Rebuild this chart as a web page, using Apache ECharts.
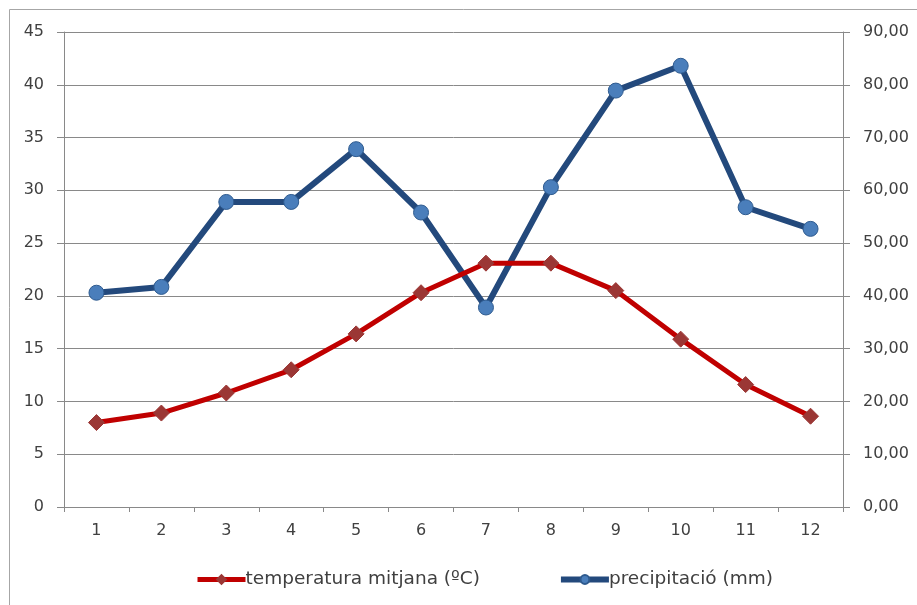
<!DOCTYPE html>
<html><head><meta charset="utf-8">
<script src="https://cdn.jsdelivr.net/npm/echarts@6/dist/echarts.min.js"></script>
<style>html,body{margin:0;padding:0;background:#fff}#c{width:917px;height:605px}</style>
</head><body><div id="c"></div>
<script>
const months = ['1','2','3','4','5','6','7','8','9','10','11','12'];
const temperature = [8.0, 8.9, 10.8, 13.0, 16.4, 20.3, 23.1, 23.1, 20.5, 15.9, 11.6, 8.6];
const precipitation = [40.6, 41.7, 57.8, 57.8, 67.8, 55.8, 37.8, 60.6, 78.9, 83.6, 56.8, 52.7];
const tempName = 'temperatura mitjana (ºC)';
const precName = 'precipitació (mm)';

const FONT = 'DejaVu Sans';
const chart = echarts.init(document.getElementById('c'));
chart.setOption({
  animation: false,
  textStyle: {fontFamily: FONT},
  graphic: [{type:'rect', shape:{x:9.5,y:9.5,width:940,height:640}, style:{fill:'none', stroke:'#a6a6a6', lineWidth:1}, silent:true}],
  grid: {left:64, right:74, top:32, bottom:98},
  legend: {
    top: 565, left: 190, itemWidth: 48, itemHeight: 11, itemGap: 78,
    textStyle: {fontFamily: FONT, fontSize: 18.5, color:'#404040', padding:[0,0,0,-5]},
    data: [
      {name: tempName, lineStyle:{width:5, color:'#C00000'}},
      {name: precName, lineStyle:{width:6, color:'#23497C'}}
    ]
  },
  xAxis: {
    type: 'category', data: months, boundaryGap: true,
    axisLine: {lineStyle:{color:'#898989', width:1}},
    axisTick: {show:true, length:5, inside:false, lineStyle:{color:'#898989'}},
    axisLabel: {color:'#404040', fontSize:16, margin:16, fontFamily: FONT}
  },
  yAxis: [{
    type:'value', min:0, max:45, interval:5, position:'left',
    axisLine:{show:true, lineStyle:{color:'#898989'}},
    axisTick:{show:true, length:7, lineStyle:{color:'#898989'}},
    splitLine:{show:true, lineStyle:{color:'#898989', width:1}},
    axisLabel:{color:'#404040', fontSize:16, margin:20, fontFamily: FONT}
  },{
    type:'value', min:0, max:90, interval:10, position:'right',
    axisLine:{show:true, lineStyle:{color:'#898989'}},
    axisTick:{show:true, length:7, lineStyle:{color:'#898989'}},
    splitLine:{show:false},
    axisLabel:{color:'#404040', fontSize:16, margin:20, fontFamily: FONT,
      formatter: v => v.toFixed(2).replace('.', ',')}
  }],
  series: [{
    name: tempName, type:'line', yAxisIndex:0, data: temperature,
    symbol:'diamond', symbolSize:16,
    lineStyle:{color:'#C00000', width:5},
    itemStyle:{color:'#9B3735', borderColor:'#9B3735', borderWidth:1},
    z: 3
  },{
    name: precName, type:'line', yAxisIndex:1, data: precipitation,
    symbol:'circle', symbolSize:15,
    lineStyle:{color:'#23497C', width:6},
    itemStyle:{color:'#4A7EBB', borderColor:'#2E5A8E', borderWidth:1},
    z: 2
  }]
});
</script></body></html>
